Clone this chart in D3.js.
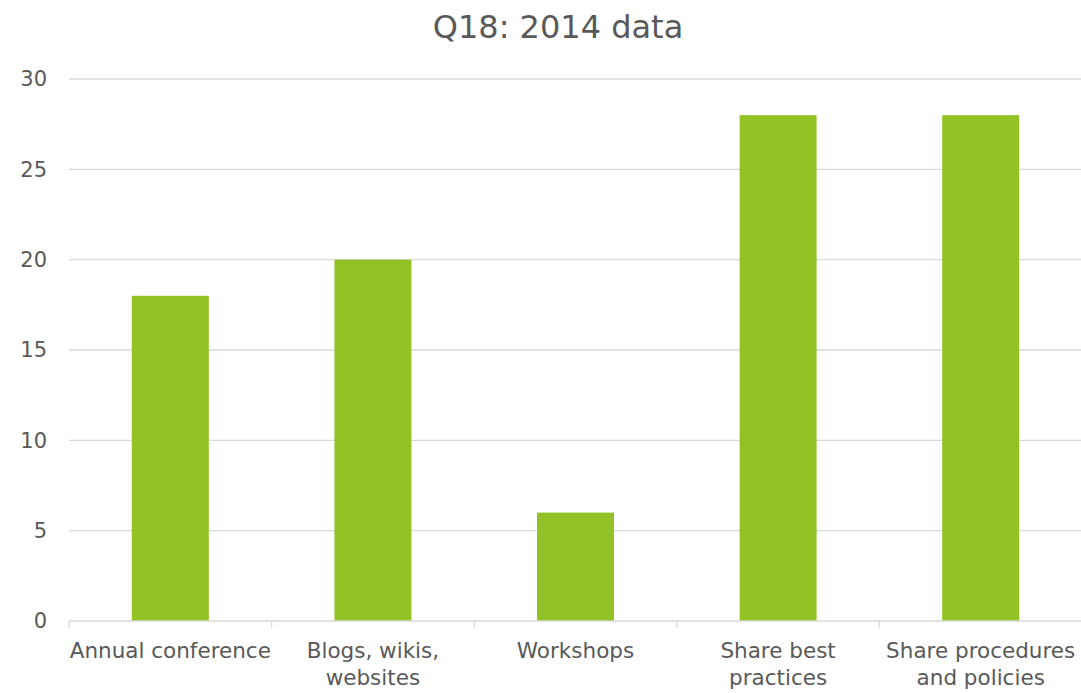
<!DOCTYPE html>
<html>
<head>
<meta charset="utf-8">
<script src="https://cdn.jsdelivr.net/npm/d3@7"></script>
<style>
  body { margin: 0; background: #fff; }
  text { font-family: "DejaVu Sans", Verdana, sans-serif; fill: #595959; }
</style>
</head>
<body>
<div id="chart"></div>
<script>
// chart data
const title = "Q18: 2014 data";
const categories = ["Annual conference", "Blogs, wikis,\nwebsites", "Workshops", "Share best\npractices", "Share procedures\nand policies"];
const values = [18, 20, 6, 28, 28];
const yTicks = [0, 5, 10, 15, 20, 25, 30];

const width = 1081, height = 693;
const margin = {top: 79, right: -1, bottom: 72, left: 69};

let svg = d3.select("#chart").append("svg")
    .attr("width", width)
    .attr("height", height);

//Scales
let xScale = d3.scaleBand()
    .domain(categories)
    .range([margin.left, width - margin.right])
    .paddingInner(0.62)
    .paddingOuter(0.31);

let yScale = d3.scaleLinear()
    .domain([0, 30])
    .range([height - margin.bottom, margin.top]);

//Gridlines
svg.append("g")
    .selectAll("line")
    .data(yTicks.filter(d => d > 0))
    .join("line")
    .attr("x1", margin.left)
    .attr("x2", width)
    .attr("y1", d => yScale(d))
    .attr("y2", d => yScale(d))
    .attr("stroke", "#d9d9d9")
    .attr("stroke-width", 1.3);

//Y axis labels
let yAxis = d3.axisLeft(yScale).tickValues(yTicks).tickSize(0).tickPadding(22);
svg.append("g")
    .attr("transform", "translate(" + margin.left + ",0)")
    .call(yAxis)
    .call(g => g.select(".domain").remove())
    .selectAll("text")
    .style("font-size", "21px")
    .attr("fill", "#595959");

//Bars
svg.append("g")
    .selectAll("rect")
    .data(values)
    .join("rect")
    .attr("x", (d, i) => xScale(categories[i]))
    .attr("width", xScale.bandwidth())
    .attr("y", d => yScale(d))
    .attr("height", d => yScale(0) - yScale(d))
    .attr("fill", "#92c225");

//X axis line and ticks between categories
let step = xScale.step();
let bounds = d3.range(categories.length + 1).map(i => margin.left + i * step);
let xg = svg.append("g");
xg.append("line")
    .attr("x1", margin.left)
    .attr("x2", width)
    .attr("y1", yScale(0))
    .attr("y2", yScale(0))
    .attr("stroke", "#d9d9d9")
    .attr("stroke-width", 1.3);
xg.selectAll(".tick")
    .data(bounds)
    .join("line")
    .attr("class", "tick")
    .attr("x1", d => d)
    .attr("x2", d => d)
    .attr("y1", yScale(0))
    .attr("y2", yScale(0) + 7)
    .attr("stroke", "#d9d9d9")
    .attr("stroke-width", 1.3);

//Category labels
let labels = svg.append("g")
    .selectAll("text")
    .data(categories)
    .join("text")
    .attr("text-anchor", "middle")
    .style("font-size", "21.5px")
    .attr("transform", d => "translate(" + (xScale(d) + xScale.bandwidth() / 2) + "," + (yScale(0) + 37) + ")");
labels.selectAll("tspan")
    .data(d => d.split("\n"))
    .join("tspan")
    .attr("x", 0)
    .attr("dy", (d, i) => i === 0 ? 0 : 27)
    .text(d => d);

//Title
svg.append("text")
    .attr("x", 558)
    .attr("y", 38)
    .attr("text-anchor", "middle")
    .style("font-size", "32px")
    .text(title);
</script>
</body>
</html>
